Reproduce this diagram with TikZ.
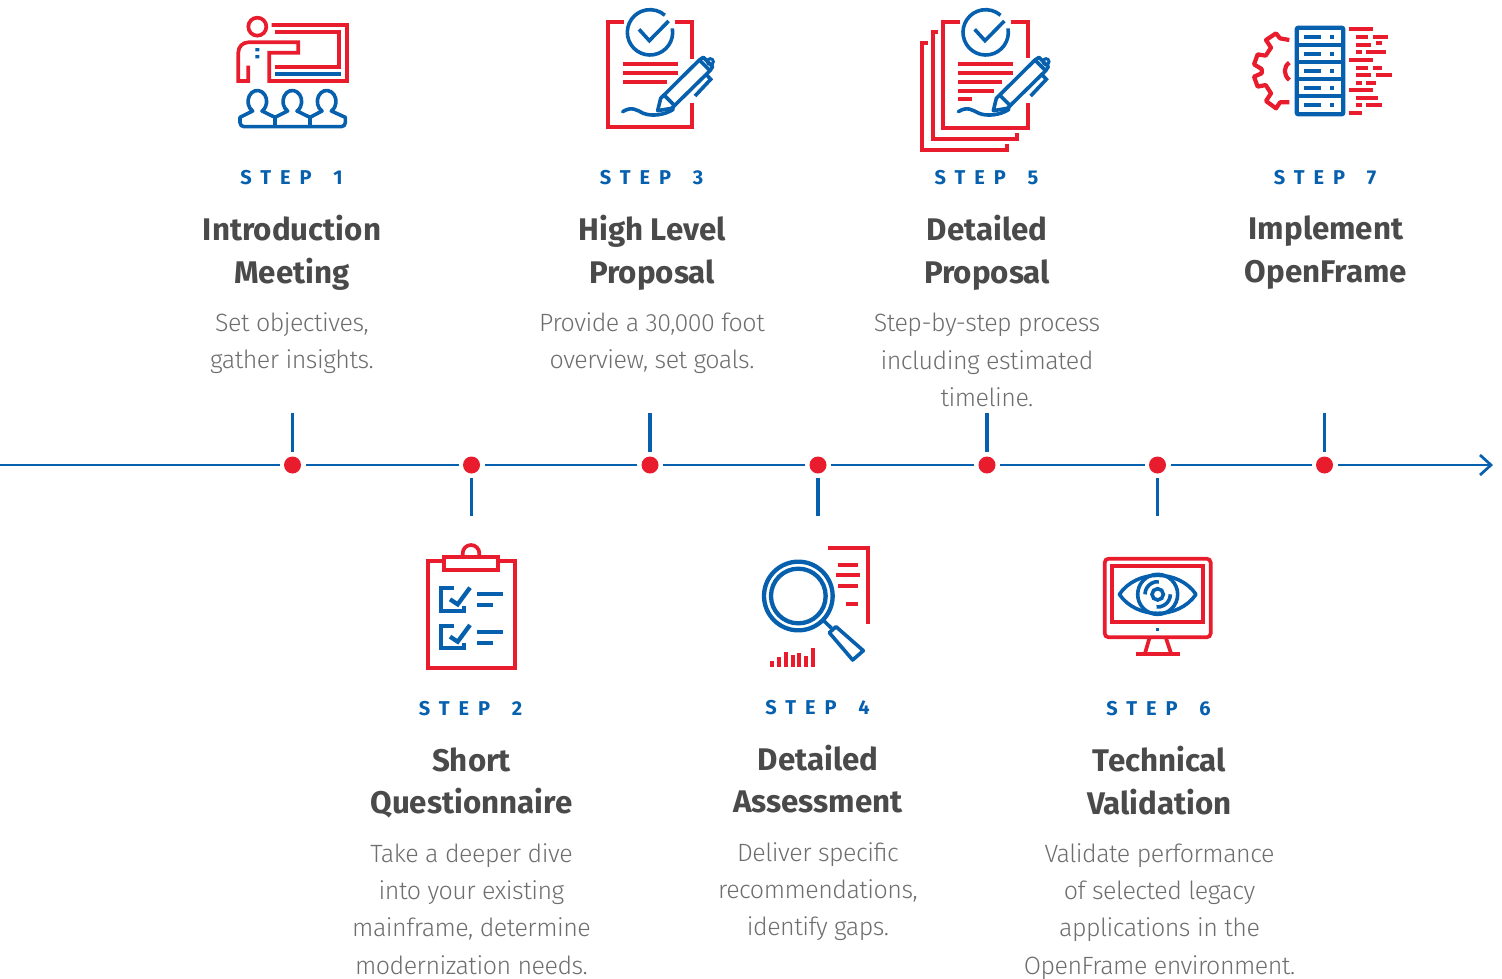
\documentclass[tikz,border=0pt]{standalone}
\usepackage{fontspec}
\setmainfont{Fira Sans}
\newfontfamily\titlefont{Fira Sans}[UprightFont=* Bold]
\newfontfamily\bodyfont{Fira Sans}[UprightFont=* Light,LetterSpace=-2]
\newfontfamily\stepfont{Fira Sans}[UprightFont=* Bold,LetterSpace=45]
\usetikzlibrary{arrows.meta}
\definecolor{myred}{HTML}{E81C2C}
\definecolor{myblue}{HTML}{0660AE}
\definecolor{titlegray}{HTML}{4A4A4A}
\definecolor{bodygray}{HTML}{6E6E6E}
\newcommand\stepgap{\hspace{8pt}}
\tikzset{
  zm/.style 2 args={shift={(#1,#2)},x=0.33333pt,y=-0.33333pt},
  rd/.style={draw=myred,line width=3.7pt,fill=none},
  bl/.style={draw=myblue,line width=3.6pt,fill=none},
  blthick/.style={draw=myblue,line width=4.3pt,fill=none},
  rdbar/.style={draw=myred,line width=4.2pt},
  blbar/.style={draw=myblue,line width=4.2pt},
  dotnode/.style={circle,fill=myred,inner sep=0pt,minimum size=17pt,outer sep=4.5pt},
  axis/.style={draw=myblue,line width=2.7pt},
  tick/.style={draw=myblue,line width=3.8pt},
  steplabel/.style={font=\stepfont\fontsize{20}{24}\selectfont,text=myblue,inner sep=0pt,anchor=center},
  titlelabel/.style={font=\titlefont\fontsize{31.3}{42.5}\selectfont,text=titlegray,align=center,inner sep=0pt,anchor=center,execute at begin node=\strut,execute at end node=\strut},
  bodylabel/.style={font=\bodyfont\fontsize{25}{37.3}\selectfont,text=bodygray,align=center,inner sep=0pt,anchor=center,execute at begin node=\strut,execute at end node=\strut},
}
\newcommand\penicon{%
  \draw[bl,line join=round] (212,295) -- (328,180) -- (360,212) -- (245,325) -- (203,332) -- cycle;
  \draw[bl] (220,283) -- (257,320);
  \draw[bl,line join=round] (328,180) -- (340,172) -- (368,200) -- (360,212);
  \draw[draw=myblue,line width=3pt] (361,185) circle[radius=9];
  \draw[bl] (350,225) -- (362,238) -- (315,288);
  \draw[bl,line cap=round] (98,335) .. controls (125,318) and (140,330) .. (160,340) .. controls (185,350) and (225,345) .. (250,328);
}
\newcommand\checkcircle{%
  \draw[bl] (180,97) ++(-10:68) arc[start angle=-10,end angle=311,radius=68];
  \draw[bl] (147,88) -- (178,122) -- (236,63);
}
\begin{document}
\begin{tikzpicture}[x=1pt,y=-1pt]
\useasboundingbox (0,0) rectangle (1502,978);
% timeline
\coordinate (start) at (0,465);
\coordinate (end) at (1493,465);
\node[dotnode] (d1) at (292.5,465) {};
\node[dotnode] (d2) at (471.5,465) {};
\node[dotnode] (d3) at (650,465) {};
\node[dotnode] (d4) at (818,465) {};
\node[dotnode] (d5) at (987,465) {};
\node[dotnode] (d6) at (1157.5,465) {};
\node[dotnode] (d7) at (1324.5,465) {};
\draw[axis] (start) -- (d1);
\draw[axis] (d1) -- (d2);
\draw[axis] (d2) -- (d3);
\draw[axis] (d3) -- (d4);
\draw[axis] (d4) -- (d5);
\draw[axis] (d5) -- (d6);
\draw[axis] (d6) -- (d7);
\draw[axis,-{Straight Barb[length=11pt,width=20pt,line width=2.7pt]}] (d7) -- (end);
\coordinate (t1) at (292.5,413);
\coordinate (t2) at (471.5,516);
\coordinate (t3) at (650,413);
\coordinate (t4) at (818,516);
\coordinate (t5) at (987,413);
\coordinate (t6) at (1157.5,516);
\coordinate (t7) at (1324.5,413);
\draw[tick] (d1) -- (t1);
\draw[tick] (d2) -- (t2);
\draw[tick] (d3) -- (t3);
\draw[tick] (d4) -- (t4);
\draw[tick] (d5) -- (t5);
\draw[tick] (d6) -- (t6);
\draw[tick] (d7) -- (t7);
% texts
\node[steplabel] (s1) at (291.5,177.5) {STEP \stepgap 1};
\node[steplabel] (s2) at (470.5,708.5) {STEP \stepgap 2};
\node[steplabel] (s3) at (651.5,177.5) {STEP \stepgap 3};
\node[steplabel] (s4) at (817.5,707.5) {STEP \stepgap 4};
\node[steplabel] (s5) at (986.5,177.5) {STEP \stepgap 5};
\node[steplabel] (s6) at (1158.5,708.5) {STEP \stepgap 6};
\node[steplabel] (s7) at (1325,177.5) {STEP \stepgap 7};
\node[titlelabel] (h1) at (292,255.7) {Introduction\\Meeting};
\node[titlelabel] (h2) at (471.5,787) {Short\\Questionnaire};
\node[titlelabel] (h3) at (652,255.7) {High Level\\Proposal};
\node[titlelabel] (h4) at (818,785) {Detailed\\Assessment};
\node[titlelabel] (h5) at (987,255.7) {Detailed\\Proposal};
\node[titlelabel] (h6) at (1159.5,786.5) {Technical\\Validation};
\node[titlelabel] (h7) at (1326,255.7) {Implement\\OpenFrame};
\node[bodylabel] (b1) at (292,346.3) {Set objectives,\\gather insights.};
\node[bodylabel] (b2) at (471.5,914.5) {Take a deeper dive\\into your existing\\mainframe, determine\\modernization needs.};
\node[bodylabel] (b3) at (652,346.3) {Provide a 30,000 foot\\overview, set goals.};
\node[bodylabel] (b4) at (818,894.5) {Deliver specific\\recommendations,\\identify gaps.};
\node[bodylabel] (b5) at (987,365.5) {Step-by-step process\\including estimated\\timeline.};
\node[bodylabel] (b6) at (1159.5,914.5) {Validate performance\\of selected legacy\\applications in the\\OpenFrame environment.};
% icon 1
\begin{scope}[zm={220}{0}]
  \draw[rd] (112,80) circle[radius=27];
  \draw[rd] (155,75) -- (381,75) -- (381,243) -- (148,243) -- (148,158) -- (235,158) -- (235,127) -- (85,127) arc[start angle=-90,end angle=-180,radius=30] -- (55,243) -- (85,243) -- (85,197);
  \draw[rd] (165,97) -- (358,97) -- (358,200) -- (165,200);
  \draw[bl] (165,222) -- (363,222);
  \fill[myblue] (106,144) rectangle (118,154) (106,165) rectangle (118,175);
  \draw[bl,line join=round] (60,352) -- (98,333) arc[start angle=120,end angle=420,x radius=28,y radius=33] -- (165,352) -- (203,333) arc[start angle=120,end angle=420,x radius=28,y radius=33] -- (270,352) -- (306,333) arc[start angle=120,end angle=420,x radius=28,y radius=33] -- (376,352) -- (376,368) arc[start angle=0,end angle=90,radius=12] -- (72,380) arc[start angle=90,end angle=180,radius=12] -- cycle;
  \draw[bl] (165,352) -- (165,380) (270,352) -- (270,380);
\end{scope}
% icon 3
\begin{scope}[zm={590}{0}]
  \draw[rd] (103,65) -- (55,65) -- (55,382) -- (305,382) -- (305,308);
  \draw[rd] (255,65) -- (305,65) -- (305,178);
  \draw[rdbar] (98,193) -- (263,193) (98,219) -- (263,219) (98,246) -- (232,246);
  \checkcircle
  \penicon
\end{scope}
% icon 5
\begin{scope}[zm={910}{0}]
  \draw[rd] (150,65) -- (100,65) -- (100,385) -- (355,385) -- (355,308);
  \draw[rd] (302,65) -- (355,65) -- (355,175);
  \draw[rd] (85,97) -- (68,97) -- (68,417) -- (322,417) -- (322,400);
  \draw[rd] (53,128) -- (36,128) -- (36,450) -- (290,450) -- (290,432);
  \draw[rdbar] (145,193) -- (310,193) (145,219) -- (310,219) (145,246) -- (277,246) (145,272) -- (252,272) (145,298) -- (187,298);
  \begin{scope}[shift={(47,0)}]
    \checkcircle
    \penicon
  \end{scope}
\end{scope}
% icon 7
\begin{scope}[zm={1245}{15}]
  \draw[blthick,rounded corners=2pt] (155,38) rectangle (295,298);
  \draw[blthick] (155,90) -- (295,90) (155,141) -- (295,141) (155,192) -- (295,192) (155,244) -- (295,244);
  \foreach \yy in {66,117,168,218,269}{
    \draw[blbar] (178,\yy) -- (228,\yy);
    \fill[myblue] (254,\yy-6) rectangle (266,\yy+6);
  }
  \draw[rdbar] (312,42) -- (383,42)
    (332,66) -- (368,66) (383,66) -- (430,66)
    (332,89) -- (377,89) (393,85) -- (412,85)
    (332,112) -- (352,112) (363,112) -- (424,112)
    (312,135) -- (383,135)
    (332,158) -- (368,158) (383,158) -- (412,158)
    (332,181) -- (377,181) (393,181) -- (442,181)
    (332,203) -- (352,203) (363,203) -- (393,203)
    (312,226) -- (383,226)
    (332,249) -- (400,249)
    (332,271) -- (352,271) (363,271) -- (412,271)
    (312,294) -- (352,294);
  \draw[rd,line width=4.2pt,line join=round] (133,75) -- (105,70) -- (93,55) -- (63,75) -- (78,98) -- (62,122) -- (38,118) -- (27,148) -- (50,162) -- (50,175) -- (27,185) -- (38,215) -- (62,210) -- (78,235) -- (63,258) -- (93,280) -- (105,262) -- (133,262);
  \draw[rd,line width=4.2pt] (133,143) .. controls (115,155) and (115,180) .. (133,195);
\end{scope}
% icon 2
\begin{scope}[zm={415}{535}]
  \draw[rd] (85,78) -- (38,78) -- (38,398) -- (300,398) -- (300,78) -- (252,78);
  \draw[rd] (88,65) rectangle (250,105);
  \draw[rd] (143,65) -- (143,55) arc[start angle=180,end angle=360,radius=25] -- (193,65);
  \draw[blthick] (118,160) -- (78,160) -- (78,228) -- (148,228) -- (148,212);
  \draw[blthick] (105,193) -- (128,208) -- (165,158);
  \draw[blthick] (118,272) -- (78,272) -- (78,340) -- (148,340) -- (148,325);
  \draw[blthick] (105,305) -- (128,320) -- (165,270);
  \draw[blbar] (185,178) -- (265,178) (185,210) -- (233,210) (185,291) -- (265,291) (185,323) -- (233,323);
\end{scope}
% icon 4
\begin{scope}[zm={750}{535}]
  \draw[rd] (233,38) -- (355,38) -- (355,268);
  \draw[rdbar] (264,89) -- (325,89) (258,121) -- (331,121) (264,154) -- (325,154) (288,207) -- (325,207);
  \draw[blthick] (145,183) circle[radius=103];
  \draw[blthick] (145,183) circle[radius=82];
  \draw[bl] (222,258) -- (245,280);
  \draw[bl,line join=round] (258,275) -- (340,347) -- (308,375) -- (238,293) -- cycle;
  \foreach \xx/\yy in {65/378,86/366,107/351,128/360,148/354,168/364,188/340}{
    \draw[rdbar] (\xx,396) -- (\xx,\yy);
  }
\end{scope}
% icon 6
\begin{scope}[zm={1090}{545}]
  \draw[rd,rounded corners=4pt] (44,41) rectangle (362,277);
  \draw[rd] (67,64) rectangle (338,232);
  \fill[myblue] (198,249) rectangle (207,259);
  \draw[rd] (178,280) -- (165,325) (228,280) -- (243,325);
  \draw[rd] (137,327) -- (270,327);
  \draw[bl,line join=round] (88,148) .. controls (140,72) and (266,72) .. (318,148) .. controls (266,224) and (140,224) .. cycle;
  \draw[bl] (203,148) circle[radius=60];
  \draw[bl] (203,148) circle[radius=17];
  \draw[bl] (203,148) ++(180:38) arc[start angle=180,end angle=275,radius=38];
  \draw[bl] (203,148) ++(0:38) arc[start angle=0,end angle=95,radius=38];
\end{scope}
\end{tikzpicture}
\end{document}
